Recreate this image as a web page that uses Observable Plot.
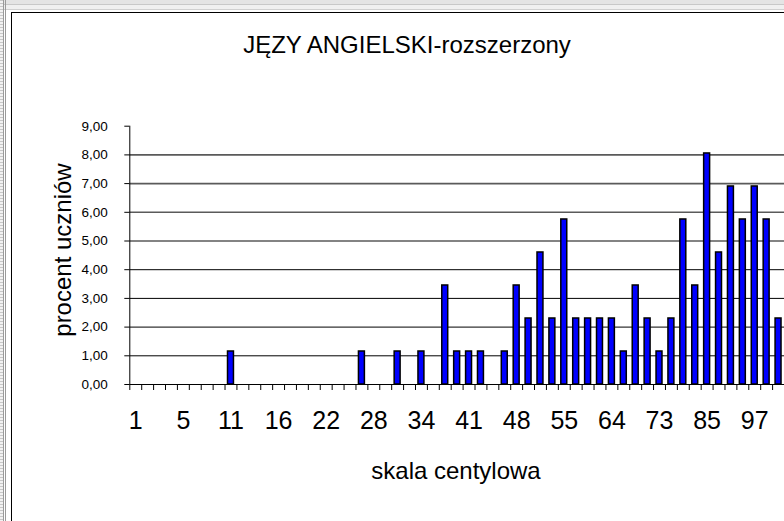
<!DOCTYPE html>
<html>
<head>
<meta charset="utf-8">
<script src="https://cdn.jsdelivr.net/npm/d3@7"></script>
<script src="https://cdn.jsdelivr.net/npm/@observablehq/plot@0.6"></script>
<style>
  html, body { margin: 0; padding: 0; background: #fff; }
  #wrap { position: relative; width: 784px; height: 521px; overflow: hidden; background: #fff;
          font-family: "Liberation Sans", Arial, sans-serif; color: #000; }
  .abs { position: absolute; white-space: nowrap; line-height: 1; }
  #plot { position: absolute; left: 0; top: 0; }
</style>
</head>
<body>
<div id="wrap">
  <!-- window decoration -->
  <div class="abs" style="left:0;top:0;width:784px;height:4px;background:#e4e4e4;"></div>
  <div class="abs" style="left:0;top:4px;width:784px;height:1px;background:#c8c8c8;"></div>
  <div class="abs" style="left:0;top:5px;width:784px;height:4px;background:#f0f0f0;"></div>
  <div class="abs" style="left:0;top:9px;width:784px;height:1px;background:#d0d0d0;"></div>
  <div class="abs" style="left:0;top:0;width:3px;height:521px;background:repeating-linear-gradient(#c8c8c8 0 1px,#f2f2f2 1px 3px);"></div>
  <div class="abs" style="left:3px;top:0;width:1px;height:521px;background:#9a9a9a;"></div>
  <div class="abs" style="left:5px;top:0;width:1px;height:521px;background:#9a9a9a;"></div>
  <div class="abs" style="left:11px;top:12px;width:773px;height:1px;background:#000;"></div>
  <div class="abs" style="left:11px;top:12px;width:1px;height:509px;background:#000;"></div>

  <div id="plot"></div>

  <div class="abs" id="title" style="left:407px;top:33px;font-size:24px;transform:translateX(-50%);">JĘZY ANGIELSKI-rozszerzony</div>
  <div class="abs" id="xtitle" style="left:456px;top:459px;font-size:24px;transform:translateX(-50%);">skala centylowa</div>
  <div class="abs" id="ytitle" style="left:63px;top:250px;font-size:24px;transform:translate(-50%,-50%) rotate(-90deg);">procent uczniów</div>
</div>
<script>
// Centile categories (every 4th is labelled; the others are estimated)
const centiles = [1,2,3,4,5,6,8,9,11,12,13,14,16,17,19,20,22,23,25,26,28,29,31,32,34,36,37,39,41,43,44,46,48,50,52,53,55,57,60,62,64,66,68,71,73,76,79,82,85,88,91,94,97,98,99];
// Percent of students per category
const percent = [0,0,0,0,0,0,0,0,1.15,0,0,0,0,0,0,0,0,0,0,1.15,0,0,1.15,0,1.15,0,3.45,1.15,1.15,1.15,0,1.15,3.45,2.30,4.60,2.30,5.75,2.30,2.30,2.30,2.30,1.15,3.45,2.30,1.15,2.30,5.75,3.45,8.05,4.60,6.90,5.75,6.90,5.75,2.30];
// Labelled x ticks
const xTickLabels = [1,5,11,16,22,28,34,41,48,55,64,73,85,97];
// Y ticks and gridlines
const yTicks = [0,1,2,3,4,5,6,7,8,9];
const gridVals = [1,2,3,4,5,6,7,8];

const data = centiles.map((c, i) => ({c, v: percent[i]}));

const W = 784, H = 521;
const mL = 129.3, mT = 125.7, mB = H - 384;
const step = (W - mL) / centiles.length;
const fmt = d => d.toFixed(2).replace(".", ",");

const chart = Plot.plot({
  width: W, height: H,
  marginLeft: mL, marginRight: 0, marginTop: mT, marginBottom: mB,
  style: {fontFamily: "'Liberation Sans', Arial, sans-serif", fontSize: "13.5px", background: "transparent", overflow: "visible", color: "#000"},
  x: {type: "band", domain: centiles, paddingInner: 0.5, paddingOuter: 0.25},
  y: {domain: [0, 9]},
  marks: [
    Plot.ruleY(gridVals, {stroke: d => d >= 5 ? "#5a5a5a" : "#000", strokeWidth: d => d >= 5 ? 1.6 : 1}),
    Plot.barY(data.filter(d => d.v > 0), {x: "c", y: "v", fill: "#0000ff", stroke: "#000", strokeWidth: 1.5}),
    Plot.ruleY([0], {stroke: "#000", strokeWidth: 1}),
    Plot.ruleX([centiles[0]], {y1: 0, y2: 9, dx: -step / 2, stroke: "#000", strokeWidth: 1}),
    Plot.axisY({ticks: yTicks, tickSize: 5, tickPadding: 17, fontSize: 13.5, tickFormat: fmt, label: null}),
    Plot.axisX({ticks: centiles, tickSize: 6, tickFormat: () => "", dx: -step / 2, label: null}),
    Plot.axisX({ticks: xTickLabels, tickSize: 0, tickPadding: 27, fontSize: 25, label: null})
  ]
});
document.getElementById("plot").appendChild(chart);
</script>
</body>
</html>
